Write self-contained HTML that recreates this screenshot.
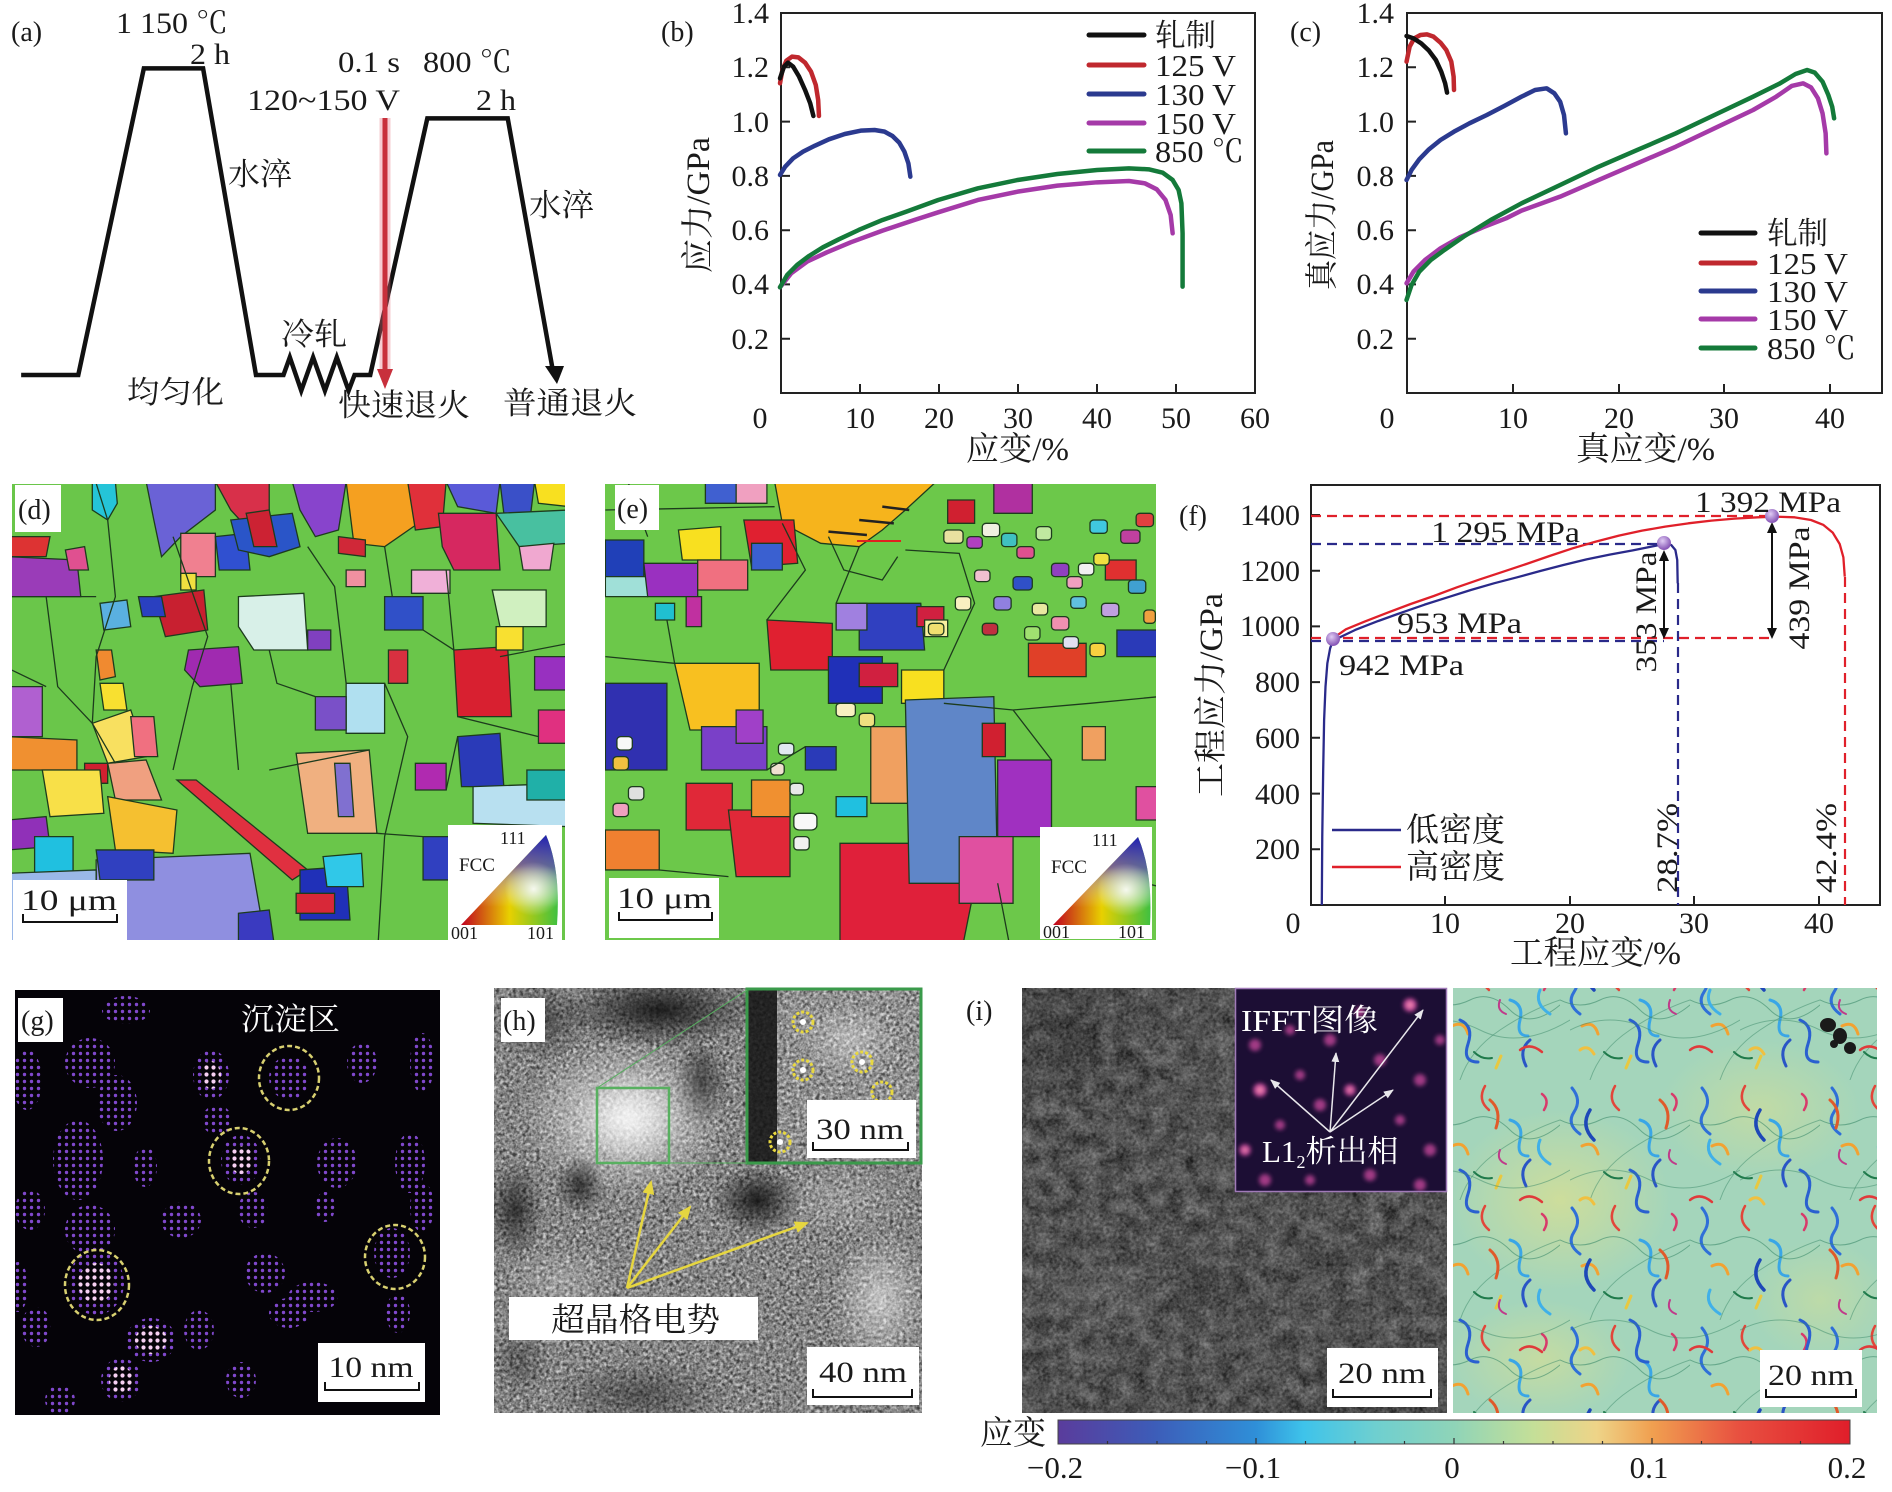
<!DOCTYPE html>
<html><head><meta charset="utf-8">
<style>
html,body{margin:0;padding:0;background:#fff;}
svg{display:block;}
text{font-family:"Liberation Serif","Noto Serif CJK SC","Noto Sans CJK SC",serif;fill:#1a1a1a;}
.ns{vector-effect:non-scaling-stroke;}
.eb polygon,.eb path,.eb rect{vector-effect:non-scaling-stroke;}
</style></head><body>
<svg width="1892" height="1492" viewBox="0 0 1892 1492" xmlns="http://www.w3.org/2000/svg">
<defs>
 <clipPath id="cd"><rect x="12" y="484" width="553" height="456"/></clipPath>
 <clipPath id="ce"><rect x="605" y="484" width="551" height="456"/></clipPath>
 <clipPath id="cg"><rect x="15" y="990" width="425" height="425"/></clipPath>
 <clipPath id="ch"><rect x="494" y="988" width="428" height="425"/></clipPath>
 <clipPath id="ci"><rect x="1022" y="988" width="425" height="425"/></clipPath>
 <clipPath id="cj"><rect x="1453" y="988" width="424" height="425"/></clipPath>
 <filter id="nz" x="0" y="0" width="100%" height="100%" color-interpolation-filters="sRGB"><feTurbulence type="fractalNoise" baseFrequency="0.3" numOctaves="2" seed="7"/><feColorMatrix type="matrix" values="0.33 0.33 0.33 0 0 0.33 0.33 0.33 0 0 0.33 0.33 0.33 0 0 0 0 0 0 1"/><feComponentTransfer><feFuncR type="linear" slope="3" intercept="-1"/><feFuncG type="linear" slope="3" intercept="-1"/><feFuncB type="linear" slope="3" intercept="-1"/></feComponentTransfer></filter>
 <filter id="nz2" x="0" y="0" width="100%" height="100%" color-interpolation-filters="sRGB"><feTurbulence type="fractalNoise" baseFrequency="0.06" numOctaves="3" seed="11"/><feColorMatrix type="matrix" values="0.33 0.33 0.33 0 0 0.33 0.33 0.33 0 0 0.33 0.33 0.33 0 0 0 0 0 0 1"/><feComponentTransfer><feFuncR type="linear" slope="2" intercept="-0.5"/><feFuncG type="linear" slope="2" intercept="-0.5"/><feFuncB type="linear" slope="2" intercept="-0.5"/></feComponentTransfer></filter>
 <filter id="bl"><feGaussianBlur stdDeviation="2"/></filter>
 <pattern id="pd" width="7" height="7" patternUnits="userSpaceOnUse"><circle cx="3.5" cy="3.5" r="1.7" fill="#8048cc"/></pattern>
 <pattern id="pb" width="7" height="7" patternUnits="userSpaceOnUse"><circle cx="3.5" cy="3.5" r="2.1" fill="#f6d0f2"/></pattern>
 <pattern id="sqA" width="130" height="120" patternUnits="userSpaceOnUse">
  <g fill="none" stroke-linecap="round">
  <path d="M12,8 q10,12 2,24 t6,22" stroke="#2f6fd8" stroke-width="3"/>
  <path d="M55,6 q-8,14 4,24" stroke="#e2463a" stroke-width="2.5"/>
  <path d="M80,40 q14,4 10,20 t8,16" stroke="#3aa6e6" stroke-width="3"/>
  <path d="M22,66 q12,-6 16,8" stroke="#f2a232" stroke-width="3"/>
  <path d="M100,80 q-12,10 -4,26" stroke="#2a55c6" stroke-width="3"/>
  <path d="M44,92 q8,8 18,6" stroke="#1f7a4a" stroke-width="2"/>
  <path d="M112,14 q8,6 2,16" stroke="#d83a6a" stroke-width="2.5"/>
  <path d="M66,108 l5,-12" stroke="#e8c840" stroke-width="3"/>
  <path d="M0,40 q20,10 40,0 t40,10 t50,-5" stroke="#3c8a6a" stroke-width="1" opacity="0.6"/>
  <path d="M30,120 q10,-30 40,-50 t60,-30" stroke="#3c8a6a" stroke-width="1" opacity="0.5"/>
  </g>
 </pattern>
 <pattern id="sqB" width="170" height="150" patternUnits="userSpaceOnUse" x="40" y="30">
  <g fill="none" stroke-linecap="round">
  <path d="M20,30 q-10,16 4,30" stroke="#1e48b8" stroke-width="3.5"/>
  <path d="M90,20 q12,10 6,28" stroke="#e05a2a" stroke-width="3"/>
  <path d="M140,60 q-6,14 10,24" stroke="#40b0e8" stroke-width="3"/>
  <path d="M60,90 q14,6 8,24 t10,18" stroke="#2a60d0" stroke-width="3"/>
  <path d="M120,120 q10,-8 22,2" stroke="#e03a3a" stroke-width="2.5"/>
  <path d="M10,120 q8,-6 14,4" stroke="#f0c040" stroke-width="3"/>
  <path d="M100,70 q-4,10 6,14" stroke="#c03a8a" stroke-width="2"/>
  <path d="M0,100 q40,-20 80,0 t90,-10" stroke="#3c8a6a" stroke-width="1" opacity="0.5"/>
  </g>
 </pattern>
 <linearGradient id="cbar" x1="0" x2="1" y1="0" y2="0">
  <stop offset="0" stop-color="#5a3c9c"/><stop offset="0.12" stop-color="#3d5cb8"/><stop offset="0.25" stop-color="#2f8fd8"/><stop offset="0.31" stop-color="#3ec3ea"/><stop offset="0.40" stop-color="#6ecfd0"/><stop offset="0.50" stop-color="#8fd4b8"/><stop offset="0.60" stop-color="#c4df98"/><stop offset="0.68" stop-color="#eed488"/><stop offset="0.75" stop-color="#f0a050"/><stop offset="0.86" stop-color="#e85040"/><stop offset="1" stop-color="#e01e2a"/>
 </linearGradient>
 <linearGradient id="ipfh" x1="0" x2="1" y1="0" y2="0"><stop offset="0" stop-color="#c00020"/><stop offset="0.5" stop-color="#e8d000"/><stop offset="1" stop-color="#40c040"/></linearGradient>
 <linearGradient id="ipfv" x1="0" x2="0" y1="0" y2="1"><stop offset="0" stop-color="#2020b0" stop-opacity="1"/><stop offset="0.35" stop-color="#6040c0" stop-opacity="0.7"/><stop offset="0.8" stop-color="#ffffff" stop-opacity="0"/></linearGradient>
 <radialGradient id="ipfw" cx="0.75" cy="0.6" r="0.3"><stop offset="0" stop-color="#fff" stop-opacity="0.9"/><stop offset="1" stop-color="#fff" stop-opacity="0"/></radialGradient>
 <radialGradient id="dot" cx="0.4" cy="0.35" r="0.6"><stop offset="0" stop-color="#e0ccf4"/><stop offset="1" stop-color="#8a5ab8"/></radialGradient>
 <radialGradient id="wb"><stop offset="0" stop-color="#fff" stop-opacity="0.95"/><stop offset="1" stop-color="#fff" stop-opacity="0"/></radialGradient>
 <radialGradient id="db"><stop offset="0" stop-color="#111" stop-opacity="0.9"/><stop offset="1" stop-color="#111" stop-opacity="0"/></radialGradient>
 <radialGradient id="yb"><stop offset="0" stop-color="#d2de98" stop-opacity="0.9"/><stop offset="1" stop-color="#d2de98" stop-opacity="0"/></radialGradient>
 <marker id="ay" markerUnits="userSpaceOnUse" markerWidth="14" markerHeight="12" refX="12" refY="6" orient="auto"><path d="M0,0 L14,6 L0,12 z" fill="#e6d640"/></marker>
 <marker id="aw" markerUnits="userSpaceOnUse" markerWidth="10" markerHeight="8" refX="9" refY="4" orient="auto"><path d="M0,0 L10,4 L0,8 z" fill="#ffffff"/></marker>
</defs>

<!-- ============ (a) ============ -->
<g transform="scale(0.4231,0.3333)">
 <path class="ns" d="M50,1125 L185,1125 L340,205 L480,205 L605,1125 L670,1125 L685,1072 L712,1172 L740,1072 L768,1172 L796,1072 L824,1172 L838,1125 L875,1125 L1010,355 L1200,355 L1305,1100" fill="none" stroke="#111" stroke-width="4.5" stroke-linejoin="miter"/>
</g>
<polygon points="545,366 564,366 557,384" fill="#111"/>
<line x1="385" y1="118" x2="385" y2="372" stroke="#e87080" stroke-width="11" opacity="0.35"/>
<line x1="385" y1="118" x2="385" y2="372" stroke="#c8303c" stroke-width="5"/>
<polygon points="377,369 393,369 385,389" fill="#c8303c"/>
<text x="11" y="41" font-size="28">(a)</text>
<text x="116" y="33" font-size="30" textLength="112" lengthAdjust="spacingAndGlyphs">1 150 ℃</text>
<text x="190" y="64" font-size="30" textLength="40" lengthAdjust="spacingAndGlyphs">2 h</text>
<text x="338" y="72" font-size="30" textLength="62" lengthAdjust="spacingAndGlyphs">0.1 s</text>
<text x="423" y="72" font-size="30" textLength="89" lengthAdjust="spacingAndGlyphs">800 ℃</text>
<text x="247" y="110" font-size="30" textLength="153" lengthAdjust="spacingAndGlyphs">120~150 V</text>
<text x="476" y="110" font-size="30" textLength="40" lengthAdjust="spacingAndGlyphs">2 h</text>
<text x="228" y="185" font-size="31" textLength="64" lengthAdjust="spacingAndGlyphs">水淬</text>
<text x="529" y="216" font-size="31" textLength="65" lengthAdjust="spacingAndGlyphs">水淬</text>
<text x="281" y="345" font-size="31" textLength="66" lengthAdjust="spacingAndGlyphs">冷轧</text>
<text x="127" y="403" font-size="31" textLength="97" lengthAdjust="spacingAndGlyphs">均匀化</text>
<text x="338" y="416" font-size="31" textLength="132" lengthAdjust="spacingAndGlyphs">快速退火</text>
<text x="503" y="414" font-size="31" textLength="134" lengthAdjust="spacingAndGlyphs">普通退火</text>

<!-- ============ (b) ============ -->
<text x="661" y="41" font-size="28">(b)</text>
<rect x="781" y="13" width="474" height="380" fill="none" stroke="#222" stroke-width="2"/>
<path d="M781,338.7h9M781,284.4h9M781,230.2h9M781,175.9h9M781,121.6h9M781,67.3h9M860,393v-9M939,393v-9M1018,393v-9M1097,393v-9M1176,393v-9" stroke="#222" stroke-width="2"/>
<g font-size="30" text-anchor="end">
 <text x="769" y="23">1.4</text><text x="769" y="77">1.2</text><text x="769" y="132">1.0</text><text x="769" y="186">0.8</text><text x="769" y="240">0.6</text><text x="769" y="294">0.4</text><text x="769" y="349">0.2</text>
</g>
<g font-size="30" text-anchor="middle">
 <text x="760" y="428">0</text><text x="860" y="428">10</text><text x="939" y="428">20</text><text x="1018" y="428">30</text><text x="1097" y="428">40</text><text x="1176" y="428">50</text><text x="1255" y="428">60</text>
</g>
<text x="966" y="460" font-size="33" textLength="103" lengthAdjust="spacingAndGlyphs">应变/%</text>
<text transform="translate(709,205) rotate(-90)" text-anchor="middle" font-size="33" textLength="136" lengthAdjust="spacingAndGlyphs">应力/GPa</text>
<g transform="translate(660,0) scale(0.3974,0.3333)" fill="none" stroke-width="4.5" stroke-linecap="round" stroke-linejoin="round">
 <path class="ns" stroke="#c0282e" d="M302,250 L308,210 L318,182 L332,170 L348,172 L365,188 L380,215 L392,255 L398,300 L400,348"/>
 <path class="ns" stroke="#111" d="M302,235 L312,200 L322,188 L335,200 L350,230 L365,270 L378,310 L386,348"/>
 <path class="ns" stroke="#2b3a8f" d="M302,525 L315,500 L335,475 L360,455 L390,437 L425,418 L465,402 L505,392 L540,390 L565,395 L585,408 L602,428 L615,455 L625,490 L630,530"/>
 <path class="ns" stroke="#a53aa8" d="M302,862 L330,820 L370,785 L420,757 L480,727 L560,692 L640,660 L700,637 L800,600 L900,575 L1000,557 L1100,547 L1180,543 L1220,550 L1250,568 L1272,600 L1285,645 L1290,700"/>
 <path class="ns" stroke="#147a3a" d="M302,862 L320,825 L345,795 L375,768 L410,742 L450,718 L500,690 L560,660 L620,635 L700,600 L800,565 L900,540 L1000,522 L1100,510 L1180,505 L1230,508 L1265,518 L1290,540 L1305,570 L1312,610 L1315,700 L1315,860"/>
</g>
<g stroke-width="5" stroke-linecap="round">
 <line x1="1089" y1="35" x2="1144" y2="35" stroke="#111"/>
 <line x1="1089" y1="65" x2="1144" y2="65" stroke="#c0282e"/>
 <line x1="1089" y1="94" x2="1144" y2="94" stroke="#2b3a8f"/>
 <line x1="1089" y1="123" x2="1144" y2="123" stroke="#a53aa8"/>
 <line x1="1089" y1="151" x2="1144" y2="151" stroke="#147a3a"/>
</g>
<g font-size="31">
 <text x="1155" y="46" textLength="61" lengthAdjust="spacingAndGlyphs">轧制</text>
 <text x="1155" y="76" textLength="81" lengthAdjust="spacingAndGlyphs">125 V</text>
 <text x="1155" y="105" textLength="81" lengthAdjust="spacingAndGlyphs">130 V</text>
 <text x="1155" y="134" textLength="81" lengthAdjust="spacingAndGlyphs">150 V</text>
 <text x="1155" y="162" textLength="89" lengthAdjust="spacingAndGlyphs">850 ℃</text>
</g>

<!-- ============ (c) ============ -->
<text x="1290" y="41" font-size="28">(c)</text>
<rect x="1407" y="13" width="475" height="380" fill="none" stroke="#222" stroke-width="2"/>
<path d="M1407,338.7h9M1407,284.4h9M1407,230.2h9M1407,175.9h9M1407,121.6h9M1407,67.3h9M1513,393v-9M1619,393v-9M1724,393v-9M1830,393v-9" stroke="#222" stroke-width="2"/>
<g font-size="30" text-anchor="end">
 <text x="1394" y="23">1.4</text><text x="1394" y="77">1.2</text><text x="1394" y="132">1.0</text><text x="1394" y="186">0.8</text><text x="1394" y="240">0.6</text><text x="1394" y="294">0.4</text><text x="1394" y="349">0.2</text>
</g>
<g font-size="30" text-anchor="middle">
 <text x="1387" y="428">0</text><text x="1513" y="428">10</text><text x="1619" y="428">20</text><text x="1724" y="428">30</text><text x="1830" y="428">40</text>
</g>
<text x="1576" y="460" font-size="33" textLength="139" lengthAdjust="spacingAndGlyphs">真应变/%</text>
<text transform="translate(1333,215) rotate(-90)" text-anchor="middle" font-size="33" textLength="150" lengthAdjust="spacingAndGlyphs">真应力/GPa</text>
<g transform="translate(1290,0) scale(0.3859,0.3333)" fill="none" stroke-width="4.5" stroke-linecap="round" stroke-linejoin="round">
 <path class="ns" stroke="#c0282e" d="M302,185 L310,140 L322,115 L338,105 L355,103 L372,110 L390,128 L405,150 L418,185 L424,230 L425,270"/>
 <path class="ns" stroke="#111" d="M302,108 L320,115 L340,130 L360,152 L378,180 L392,215 L402,250 L407,278"/>
 <path class="ns" stroke="#2b3a8f" d="M302,540 L315,510 L335,478 L360,448 L390,420 L425,395 L465,370 L510,345 L555,318 L600,290 L635,270 L665,265 L685,280 L700,305 L710,345 L715,400"/>
 <path class="ns" stroke="#a53aa8" d="M302,850 L320,815 L350,780 L390,745 L440,712 L500,682 L560,655 L600,632 L700,590 L800,540 L900,490 L1000,440 L1100,385 L1200,330 L1260,290 L1300,258 L1330,250 L1350,262 L1368,295 L1380,340 L1388,400 L1390,460"/>
 <path class="ns" stroke="#147a3a" d="M302,900 L315,855 L335,815 L365,780 L400,750 L450,710 L520,660 L600,610 L700,555 L800,500 L900,450 L1000,400 L1100,345 L1200,290 L1270,250 L1310,222 L1340,210 L1360,218 L1380,245 L1395,285 L1405,320 L1410,355"/>
</g>
<g stroke-width="5" stroke-linecap="round">
 <line x1="1701" y1="233" x2="1755" y2="233" stroke="#111"/>
 <line x1="1701" y1="263" x2="1755" y2="263" stroke="#c0282e"/>
 <line x1="1701" y1="291" x2="1755" y2="291" stroke="#2b3a8f"/>
 <line x1="1701" y1="319" x2="1755" y2="319" stroke="#a53aa8"/>
 <line x1="1701" y1="348" x2="1755" y2="348" stroke="#147a3a"/>
</g>
<g font-size="31">
 <text x="1767" y="244" textLength="61" lengthAdjust="spacingAndGlyphs">轧制</text>
 <text x="1767" y="274" textLength="81" lengthAdjust="spacingAndGlyphs">125 V</text>
 <text x="1767" y="302" textLength="81" lengthAdjust="spacingAndGlyphs">130 V</text>
 <text x="1767" y="330" textLength="81" lengthAdjust="spacingAndGlyphs">150 V</text>
 <text x="1767" y="359" textLength="89" lengthAdjust="spacingAndGlyphs">850 ℃</text>
</g>

<!-- ============ (d) EBSD ============ -->
<g clip-path="url(#cd)">
<g class="eb" transform="translate(0,470) scale(0.3846,0.3333)" stroke="#1d3b1d" stroke-width="1.3">
 <rect x="0" y="0" width="1560" height="1480" fill="#6ac64a"/>
 <polygon points="240,35 300,35 305,100 280,150 240,120" fill="#25c4d8"/>
 <polygon points="380,35 560,35 560,120 470,200 420,260 400,150" fill="#6a62d6"/>
 <polygon points="470,190 560,190 560,320 470,320" fill="#f08090"/>
 <polygon points="560,35 700,35 700,130 640,170 600,120" fill="#d8304a"/>
 <polygon points="560,200 640,190 650,300 570,300" fill="#3050d0"/>
 <polygon points="600,150 760,130 780,230 700,260 620,240" fill="#2a55c8"/>
 <polygon points="640,130 700,120 720,230 660,230" fill="#cc2233"/>
 <polygon points="760,35 900,35 880,180 820,200 780,120" fill="#8844cc"/>
 <polygon points="900,35 1130,35 1100,150 1000,230 920,220" fill="#f5a020"/>
 <polygon points="1060,35 1160,35 1150,170 1080,180" fill="#e0303a"/>
 <polygon points="1160,35 1300,35 1290,130 1190,110" fill="#5a5ad8"/>
 <polygon points="1140,130 1290,130 1300,300 1180,300 1150,230" fill="#d62860"/>
 <polygon points="1300,35 1390,35 1380,130 1310,130" fill="#3a50c8"/>
 <polygon points="1390,35 1480,35 1480,110 1400,100" fill="#f8e020"/>
 <polygon points="1290,130 1480,120 1480,220 1350,230" fill="#48c0a0"/>
 <polygon points="1350,230 1440,220 1430,300 1360,300" fill="#f0a8d0"/>
 <polygon points="20,200 130,200 120,260 20,260" fill="#dd3333"/>
 <polygon points="20,260 200,270 210,380 20,380" fill="#9a3cb8"/>
 <polygon points="170,240 220,230 230,300 180,300" fill="#e05090"/>
 <polygon points="260,400 330,390 340,470 270,480" fill="#5ab0e0"/>
 <polygon points="400,380 530,360 540,480 430,500" fill="#c82030"/>
 <polygon points="360,380 420,380 430,440 370,440" fill="#2a40c0"/>
 <polygon points="470,310 510,310 510,360 470,360" fill="#f0e040"/>
 <polygon points="620,380 790,370 800,540 660,540 620,470" fill="#d8f0e8"/>
 <polygon points="490,540 620,530 630,640 520,650 480,600" fill="#a02ab0"/>
 <polygon points="250,540 290,540 300,620 260,630" fill="#f08a30"/>
 <polygon points="20,650 110,650 110,800 20,800" fill="#b060d0"/>
 <polygon points="20,800 200,810 200,900 20,900" fill="#f09030"/>
 <polygon points="260,640 320,640 330,720 270,720" fill="#f8e030"/>
 <polygon points="240,760 340,720 380,860 280,880" fill="#f8e060"/>
 <polygon points="340,740 400,740 410,860 350,860" fill="#f07080"/>
 <polygon points="220,880 280,880 280,940 220,940" fill="#d02030"/>
 <polygon points="110,900 260,900 270,1030 130,1040" fill="#f8e048"/>
 <polygon points="280,880 380,870 420,990 300,990" fill="#f0a080"/>
 <polygon points="20,1050 120,1040 130,1130 20,1140" fill="#9030b8"/>
 <polygon points="90,1100 190,1100 190,1210 90,1210" fill="#20c0e0"/>
 <polygon points="280,980 460,1020 450,1150 300,1140" fill="#f5c030"/>
 <polygon points="250,1170 650,1150 700,1480 250,1480" fill="#8f8fe0"/>
 <polygon points="250,1140 400,1140 400,1230 260,1230" fill="#3040c0"/>
 <polygon points="20,1210 250,1200 250,1480 20,1480" fill="#9ab8e8"/>
 <polygon points="460,930 510,930 800,1200 760,1230" fill="#e03040"/>
 <polygon points="770,850 960,840 980,1090 800,1090" fill="#f0b080"/>
 <polygon points="870,880 910,880 920,1040 880,1040" fill="#8070d0"/>
 <polygon points="780,1200 900,1190 910,1350 780,1350" fill="#2030b8"/>
 <polygon points="840,1160 940,1150 945,1250 850,1250" fill="#30c8e8"/>
 <polygon points="770,1270 870,1270 870,1330 770,1330" fill="#d82838"/>
 <polygon points="620,1330 700,1320 720,1480 620,1480" fill="#3a3ac0"/>
 <polygon points="1080,880 1160,880 1160,960 1080,960" fill="#b02ab0"/>
 <polygon points="1190,800 1300,790 1310,950 1200,950" fill="#2a3ab8"/>
 <polygon points="1230,950 1480,940 1480,1070 1230,1060" fill="#b8e0f0"/>
 <polygon points="1370,900 1480,900 1480,990 1370,990" fill="#20b0a8"/>
 <polygon points="1100,1100 1170,1100 1170,1230 1100,1230" fill="#3040c0"/>
 <polygon points="1180,540 1320,530 1330,740 1190,740" fill="#d82030"/>
 <polygon points="1280,360 1420,360 1420,470 1300,470" fill="#d0f0c0"/>
 <polygon points="1000,380 1100,380 1100,480 1000,480" fill="#3050c8"/>
 <polygon points="1290,470 1360,470 1360,540 1290,540" fill="#f8e030"/>
 <polygon points="1070,300 1170,300 1170,370 1070,370" fill="#f0b0d8"/>
 <polygon points="900,640 1000,640 1000,790 900,790" fill="#b0e0f0"/>
 <polygon points="820,680 900,680 900,780 820,780" fill="#7a50c8"/>
 <polygon points="1390,560 1480,560 1480,660 1390,660" fill="#9830c0"/>
 <polygon points="1400,720 1480,720 1480,820 1400,820" fill="#e03080"/>
 <polygon points="880,200 950,210 950,260 880,250" fill="#d02838"/>
 <polygon points="900,300 950,300 950,350 900,350" fill="#f090a0"/>
 <polygon points="1010,540 1060,540 1060,640 1010,640" fill="#d83040"/>
 <polygon points="800,480 860,480 860,540 800,540" fill="#8040c0"/>
 <path fill="none" d="M250,40 L280,150 L300,380 L250,560 L240,760 L300,880 M30,380 L250,380 M450,200 L540,500 L500,650 L450,900 M600,640 L620,900 M800,230 L870,350 L900,640 M1000,230 L1020,380 M1000,640 L1060,800 L1000,1100 L980,1480 M1160,300 L1180,540 M1300,560 L1480,520 M1190,740 L1400,800 M700,900 L960,840 M30,600 L120,650 M700,540 L720,640 L820,680 M1100,480 L1180,540 M120,380 L150,650 L240,760 M980,1090 L1100,1100 M1170,1230 L1250,1480 M1160,960 L1190,800"/>
</g>
</g>
<rect x="15" y="485" width="46" height="47" fill="#fff"/>
<text x="18" y="519" font-size="28">(d)</text>
<rect x="13" y="880" width="114" height="60" fill="#fff"/>
<text x="21" y="910" font-size="30" textLength="96" lengthAdjust="spacingAndGlyphs">10 μm</text>
<path d="M23,914 V922 H117 V914" fill="none" stroke="#111" stroke-width="2"/>
<rect x="448" y="825" width="114" height="115" fill="#fff"/>
<path d="M461,925 L557,925 Q561,870 546,835 Z" fill="url(#ipfh)"/>
<path d="M461,925 L557,925 Q561,870 546,835 Z" fill="url(#ipfv)"/>
<path d="M461,925 L557,925 Q561,870 546,835 Z" fill="url(#ipfw)"/>
<text x="500" y="844" font-size="18">111</text>
<text x="459" y="871" font-size="19">FCC</text>
<text x="451" y="939" font-size="18">001</text>
<text x="527" y="939" font-size="18">101</text>

<!-- ============ (e) EBSD ============ -->
<g clip-path="url(#ce)">
<g class="eb" transform="translate(590,470) scale(0.3846,0.3333)" stroke="#1d3b1d" stroke-width="1.3">
 <rect x="0" y="0" width="1560" height="1480" fill="#6cc84a"/>
 <polygon points="480,35 900,35 820,120 760,180 700,230 600,220 500,160" fill="#f6b41c"/>
 <polygon points="300,35 380,35 380,100 300,100" fill="#4060d0"/>
 <polygon points="380,35 460,35 460,100 380,100" fill="#f0a0c0"/>
 <polygon points="230,180 340,170 340,270 240,270" fill="#f8e020"/>
 <polygon points="400,150 530,150 540,280 420,290" fill="#e02030"/>
 <polygon points="40,210 140,210 140,320 40,320" fill="#2040b8"/>
 <polygon points="40,320 150,320 150,380 40,380" fill="#a0e0d8"/>
 <polygon points="140,280 280,280 280,380 150,380" fill="#9a30c0"/>
 <polygon points="280,270 410,270 410,360 280,360" fill="#f07080"/>
 <polygon points="420,220 500,220 500,300 420,300" fill="#3a60d0"/>
 <polygon points="170,400 220,400 220,450 170,450" fill="#20c0d0"/>
 <polygon points="250,380 290,380 290,470 250,470" fill="#c030a0"/>
 <polygon points="460,450 630,460 630,600 470,600" fill="#e02030"/>
 <polygon points="220,580 440,580 440,780 260,780" fill="#f8c020"/>
 <polygon points="810,600 920,600 920,700 810,700" fill="#f8e020"/>
 <polygon points="700,400 860,400 870,540 700,540" fill="#3040c0"/>
 <polygon points="640,400 720,400 720,480 640,480" fill="#a080e0"/>
 <polygon points="620,560 760,560 760,700 620,700" fill="#2030b8"/>
 <polygon points="700,580 800,580 800,650 700,650" fill="#d02040"/>
 <polygon points="850,410 920,410 920,470 850,470" fill="#d02040"/>
 <polygon points="870,450 930,450 930,500 870,500" fill="#f8f0a0"/>
 <polygon points="40,640 200,640 200,900 40,900" fill="#3030b0"/>
 <polygon points="290,770 460,770 460,900 290,900" fill="#7a40c8"/>
 <polygon points="380,720 450,720 450,820 380,820" fill="#a040c8"/>
 <polygon points="250,940 370,940 370,1080 250,1080" fill="#e02838"/>
 <polygon points="360,1020 520,1020 520,1220 380,1220" fill="#e02838"/>
 <polygon points="420,930 520,930 520,1040 420,1040" fill="#f09030"/>
 <polygon points="730,770 840,770 840,1000 730,1000" fill="#f0a060"/>
 <polygon points="560,830 640,830 640,900 560,900" fill="#2a3ab8"/>
 <polygon points="640,980 720,980 720,1040 640,1040" fill="#20c0e0"/>
 <polygon points="650,1120 830,1120 1000,1250 960,1480 650,1480" fill="#e0203a"/>
 <polygon points="820,690 1050,680 1060,1240 830,1240" fill="#5f86c8"/>
 <polygon points="1020,760 1080,760 1080,860 1020,860" fill="#d02030"/>
 <polygon points="1060,870 1200,870 1200,1100 1060,1100" fill="#a030c0"/>
 <polygon points="960,1100 1100,1100 1100,1300 960,1300" fill="#e050a0"/>
 <polygon points="40,1080 180,1080 180,1200 40,1200" fill="#f08030"/>
 <polygon points="1140,520 1290,520 1290,620 1140,620" fill="#e04028"/>
 <polygon points="1370,480 1480,480 1480,560 1370,560" fill="#2a3ab8"/>
 <polygon points="1340,270 1420,270 1420,330 1340,330" fill="#e03030"/>
 <polygon points="930,90 1000,90 1000,160 930,160" fill="#d02030"/>
 <polygon points="1050,35 1150,35 1150,130 1050,130" fill="#b030a0"/>
 <polygon points="1420,950 1480,950 1480,1050 1420,1050" fill="#e050a0"/>
 <polygon points="1280,770 1340,770 1340,870 1280,870" fill="#f0a060"/>
 <g>
 <rect x="920" y="180" width="50" height="40" rx="10" fill="#e8e0a0"/>
 <rect x="980" y="200" width="40" height="35" rx="10" fill="#b040c0"/>
 <rect x="1020" y="160" width="45" height="40" rx="10" fill="#f0f0e0"/>
 <rect x="1070" y="190" width="40" height="40" rx="10" fill="#40c0c0"/>
 <rect x="1110" y="230" width="45" height="35" rx="10" fill="#e05090"/>
 <rect x="1160" y="170" width="40" height="40" rx="10" fill="#c0e8a0"/>
 <rect x="1200" y="280" width="45" height="40" rx="10" fill="#9040c0"/>
 <rect x="1240" y="320" width="40" height="35" rx="10" fill="#f0a0c0"/>
 <rect x="1270" y="280" width="40" height="35" rx="10" fill="#f0f0f0"/>
 <rect x="1310" y="250" width="40" height="35" rx="10" fill="#f0e040"/>
 <rect x="1100" y="320" width="50" height="40" rx="10" fill="#3050c8"/>
 <rect x="1300" y="150" width="45" height="40" rx="10" fill="#40c8e0"/>
 <rect x="1380" y="180" width="50" height="40" rx="10" fill="#c040a0"/>
 <rect x="1420" y="130" width="45" height="40" rx="10" fill="#e04040"/>
 <rect x="1000" y="300" width="40" height="35" rx="10" fill="#f0c0d0"/>
 <rect x="1050" y="380" width="45" height="40" rx="10" fill="#9080e0"/>
 <rect x="1150" y="400" width="40" height="35" rx="10" fill="#e8e8a0"/>
 <rect x="1200" y="440" width="45" height="40" rx="10" fill="#f090b0"/>
 <rect x="1250" y="380" width="40" height="35" rx="10" fill="#60c0e0"/>
 <rect x="1330" y="400" width="45" height="40" rx="10" fill="#c0a0e0"/>
 <rect x="1400" y="330" width="45" height="40" rx="10" fill="#40a0d0"/>
 <rect x="950" y="380" width="40" height="40" rx="10" fill="#f8f0c0"/>
 <rect x="880" y="460" width="40" height="35" rx="10" fill="#f0e070"/>
 <rect x="1230" y="500" width="40" height="35" rx="10" fill="#e0e0f0"/>
 <rect x="1300" y="520" width="40" height="40" rx="10" fill="#f8d040"/>
 <rect x="1440" y="420" width="30" height="40" rx="10" fill="#f0a040"/>
 <rect x="1130" y="470" width="40" height="40" rx="10" fill="#a0e070"/>
 <rect x="1020" y="460" width="40" height="35" rx="10" fill="#c03040"/>
 <rect x="70" y="800" width="40" height="40" rx="10" fill="#f8f8f8"/>
 <rect x="60" y="860" width="40" height="40" rx="10" fill="#f0c040"/>
 <rect x="100" y="950" width="40" height="40" rx="10" fill="#e0e0e0"/>
 <rect x="60" y="1000" width="40" height="40" rx="10" fill="#f0a0c0"/>
 <rect x="490" y="820" width="40" height="35" rx="10" fill="#e0e8f0"/>
 <rect x="470" y="880" width="35" height="35" rx="10" fill="#f0e0d0"/>
 <rect x="520" y="940" width="35" height="35" rx="10" fill="#e8e8e8"/>
 <rect x="530" y="1030" width="60" height="50" rx="14" fill="#f8f8f8"/>
 <rect x="530" y="1100" width="40" height="40" rx="10" fill="#f0f0f0"/>
 <rect x="640" y="700" width="50" height="40" rx="10" fill="#f8f0c0"/>
 <rect x="700" y="730" width="40" height="40" rx="10" fill="#f0e080"/>
 </g>
 <path fill="none" d="M40,120 L480,110 M100,40 L150,200 M500,160 L560,300 L460,450 M700,230 L640,400 M820,240 L960,250 L1000,400 L920,600 M200,450 L220,580 M40,560 L220,580 M920,700 L1100,720 L1300,700 L1480,680 M1100,720 L1200,870 M1200,1100 L1300,1200 L1480,1250 M460,900 L560,830 M1060,1240 L1100,1480 M180,1200 L360,1220 M620,200 L660,300 L760,330 L800,260"/>
 <path stroke="#222" stroke-width="2.5" fill="none" d="M620,185 L720,195 M700,150 L790,160 M760,110 L830,120"/>
</g>
</g>
<line x1="857" y1="541" x2="901" y2="541" stroke="#e02020" stroke-width="2"/>
<rect x="615" y="485" width="44" height="45" fill="#fff"/>
<text x="617" y="518" font-size="28">(e)</text>
<rect x="609" y="878" width="110" height="60" fill="#fff"/>
<text x="617" y="908" font-size="30" textLength="95" lengthAdjust="spacingAndGlyphs">10 μm</text>
<path d="M619,912 V920 H712 V912" fill="none" stroke="#111" stroke-width="2"/>
<rect x="1040" y="827" width="112" height="112" fill="#fff"/>
<path d="M1053,925 L1150,925 Q1153,872 1138,837 Z" fill="url(#ipfh)"/>
<path d="M1053,925 L1150,925 Q1153,872 1138,837 Z" fill="url(#ipfv)"/>
<path d="M1053,925 L1150,925 Q1153,872 1138,837 Z" fill="url(#ipfw)"/>
<text x="1092" y="846" font-size="18">111</text>
<text x="1051" y="873" font-size="19">FCC</text>
<text x="1043" y="938" font-size="18">001</text>
<text x="1118" y="938" font-size="18">101</text>

<!-- ============ (f) ============ -->
<text x="1179" y="525" font-size="28">(f)</text>
<rect x="1311" y="485" width="569" height="420" fill="none" stroke="#222" stroke-width="2"/>
<path d="M1311,849.3h9M1311,793.6h9M1311,737.8h9M1311,682.1h9M1311,626.4h9M1311,570.7h9M1311,515h9M1445,905v-9M1570,905v-9M1694,905v-9M1819,905v-9" stroke="#222" stroke-width="2"/>
<g font-size="30" text-anchor="end">
 <text x="1300" y="525">1400</text><text x="1300" y="581">1200</text><text x="1300" y="636">1000</text><text x="1300" y="692">800</text><text x="1300" y="748">600</text><text x="1300" y="804">400</text><text x="1300" y="859">200</text>
</g>
<g font-size="30" text-anchor="middle">
 <text x="1293" y="933">0</text><text x="1445" y="933">10</text><text x="1570" y="933">20</text><text x="1694" y="933">30</text><text x="1819" y="933">40</text>
</g>
<text x="1510" y="964" font-size="33" textLength="171" lengthAdjust="spacingAndGlyphs">工程应变/%</text>
<text transform="translate(1222,695) rotate(-90)" text-anchor="middle" font-size="33" textLength="204" lengthAdjust="spacingAndGlyphs">工程应力/GPa</text>
<g stroke-width="2.2" stroke-dasharray="10 6" fill="none">
 <line x1="1311" y1="516" x2="1772" y2="516" stroke="#e0202a"/>
 <line x1="1311" y1="544" x2="1664" y2="544" stroke="#2a2a8a"/>
 <line x1="1311" y1="638" x2="1772" y2="638" stroke="#e0202a"/>
 <line x1="1311" y1="641" x2="1664" y2="641" stroke="#2a2a8a"/>
 <line x1="1678" y1="583" x2="1678" y2="905" stroke="#2a2a8a"/>
 <line x1="1845" y1="577" x2="1845" y2="905" stroke="#e0202a"/>
</g>
<g transform="translate(1170,470) scale(0.4628,0.3333)" fill="none" stroke-width="2.3" stroke-linejoin="round">
 <path class="ns" stroke="#2a2a8a" d="M328,1305 L329,1100 L331,900 L333,750 L336,650 L340,580 L346,535 L352,512 L400,480 L450,453 L500,428 L550,404 L600,382 L650,360 L700,340 L750,322 L800,303 L850,285 L900,268 L950,254 L1000,241 L1040,230 L1068,222 L1083,225 L1092,240 L1096,270 L1097,340"/>
 <path class="ns" stroke="#e0202a" d="M352,505 L380,478 L420,455 L470,428 L520,402 L570,378 L620,352 L670,328 L720,305 L770,282 L820,258 L870,235 L920,215 L970,197 L1020,182 L1070,170 L1120,160 L1170,152 L1220,146 L1270,142 L1310,140 L1350,142 L1385,150 L1412,165 L1432,188 L1447,222 L1455,262 L1458,320"/>
</g>
<g stroke="#111" stroke-width="2">
 <line x1="1664" y1="556" x2="1664" y2="633"/>
 <line x1="1772" y1="528" x2="1772" y2="633"/>
</g>
<g fill="#111">
 <polygon points="1659,561 1669,561 1664,550"/><polygon points="1659,628 1669,628 1664,639"/>
 <polygon points="1767,533 1777,533 1772,522"/><polygon points="1767,628 1777,628 1772,639"/>
</g>
<circle cx="1333" cy="639" r="7" fill="url(#dot)"/>
<circle cx="1664" cy="543" r="7" fill="url(#dot)"/>
<circle cx="1772" cy="516" r="7" fill="url(#dot)"/>
<g font-size="30">
 <text x="1695" y="512" textLength="146" lengthAdjust="spacingAndGlyphs">1 392 MPa</text>
 <text x="1431" y="542" textLength="149" lengthAdjust="spacingAndGlyphs">1 295 MPa</text>
 <text x="1397" y="633" textLength="125" lengthAdjust="spacingAndGlyphs">953 MPa</text>
 <text x="1339" y="675" textLength="125" lengthAdjust="spacingAndGlyphs">942 MPa</text>
 <text transform="translate(1656,612) rotate(-90)" text-anchor="middle" textLength="121" lengthAdjust="spacingAndGlyphs">353 MPa</text>
 <text transform="translate(1809,588) rotate(-90)" text-anchor="middle" textLength="123" lengthAdjust="spacingAndGlyphs">439 MPa</text>
 <text transform="translate(1677,848) rotate(-90)" text-anchor="middle" textLength="90" lengthAdjust="spacingAndGlyphs">28.7%</text>
 <text transform="translate(1836,848) rotate(-90)" text-anchor="middle" textLength="90" lengthAdjust="spacingAndGlyphs">42.4%</text>
</g>
<line x1="1332" y1="830" x2="1401" y2="830" stroke="#2a2a8a" stroke-width="2.5"/>
<line x1="1332" y1="867" x2="1401" y2="867" stroke="#e0202a" stroke-width="2.5"/>
<text x="1406" y="841" font-size="33" textLength="99" lengthAdjust="spacingAndGlyphs">低密度</text>
<text x="1406" y="878" font-size="33" textLength="99" lengthAdjust="spacingAndGlyphs">高密度</text>

<!-- ============ (g) ============ -->
<rect x="15" y="990" width="425" height="425" fill="#050308"/>
<g clip-path="url(#cg)">
 <g fill="url(#pd)">
  <ellipse cx="126" cy="1010" rx="24" ry="14"/><ellipse cx="90" cy="1063" rx="25" ry="25"/><ellipse cx="27" cy="1080" rx="15" ry="30"/>
  <ellipse cx="117" cy="1103" rx="20" ry="28"/><ellipse cx="211" cy="1075" rx="18" ry="25"/><ellipse cx="289" cy="1078" rx="20" ry="22"/>
  <ellipse cx="362" cy="1063" rx="15" ry="20"/><ellipse cx="422" cy="1063" rx="12" ry="30"/><ellipse cx="217" cy="1120" rx="15" ry="15"/>
  <ellipse cx="78" cy="1160" rx="25" ry="40"/><ellipse cx="145" cy="1167" rx="12" ry="20"/><ellipse cx="241" cy="1160" rx="20" ry="25"/>
  <ellipse cx="337" cy="1163" rx="20" ry="25"/><ellipse cx="410" cy="1163" rx="15" ry="30"/><ellipse cx="30" cy="1210" rx="15" ry="20"/>
  <ellipse cx="90" cy="1230" rx="25" ry="25"/><ellipse cx="181" cy="1220" rx="20" ry="18"/><ellipse cx="253" cy="1210" rx="15" ry="18"/>
  <ellipse cx="325" cy="1207" rx="10" ry="15"/><ellipse cx="422" cy="1207" rx="12" ry="25"/><ellipse cx="96" cy="1283" rx="28" ry="32"/>
  <ellipse cx="18" cy="1287" rx="10" ry="25"/><ellipse cx="265" cy="1273" rx="20" ry="20"/><ellipse cx="313" cy="1297" rx="25" ry="15"/>
  <ellipse cx="392" cy="1253" rx="18" ry="25"/><ellipse cx="151" cy="1340" rx="25" ry="22"/><ellipse cx="199" cy="1330" rx="15" ry="20"/>
  <ellipse cx="121" cy="1380" rx="20" ry="22"/><ellipse cx="241" cy="1380" rx="15" ry="18"/><ellipse cx="289" cy="1313" rx="20" ry="15"/>
  <ellipse cx="36" cy="1327" rx="15" ry="20"/><ellipse cx="398" cy="1313" rx="12" ry="20"/><ellipse cx="60" cy="1400" rx="15" ry="15"/>
 </g>
 <g fill="url(#pb)">
  <ellipse cx="211" cy="1075" rx="10" ry="14"/><ellipse cx="241" cy="1160" rx="12" ry="14"/><ellipse cx="96" cy="1283" rx="18" ry="20"/>
  <ellipse cx="151" cy="1340" rx="16" ry="14"/><ellipse cx="121" cy="1380" rx="12" ry="14"/>
 </g>
 <g fill="none" stroke="#d8d070" stroke-width="2.5" stroke-dasharray="5 3">
  <ellipse cx="289" cy="1078" rx="30" ry="32"/><ellipse cx="239" cy="1161" rx="30" ry="33"/>
  <ellipse cx="97" cy="1285" rx="32" ry="35"/><ellipse cx="395" cy="1257" rx="30" ry="32"/>
 </g>
</g>
<rect x="18" y="998" width="45" height="44" fill="#fff"/>
<text x="21" y="1030" font-size="28">(g)</text>
<text x="241" y="1030" font-size="31" textLength="99" lengthAdjust="spacingAndGlyphs" style="fill:#fff">沉淀区</text>
<rect x="318" y="1343" width="107" height="59" fill="#fff"/>
<text x="371" y="1377" font-size="30" text-anchor="middle" textLength="85" lengthAdjust="spacingAndGlyphs">10 nm</text>
<path d="M325,1382 V1390 H419 V1382" fill="none" stroke="#111" stroke-width="2"/>

<!-- ============ (h) ============ -->
<g clip-path="url(#ch)">
 <rect x="494" y="988" width="428" height="425" fill="#8e8e8e"/>
 <rect x="494" y="988" width="428" height="425" filter="url(#nz)" opacity="0.55"/>
 <ellipse cx="660" cy="1010" rx="100" ry="38" fill="url(#db)"/>
 <ellipse cx="540" cy="1020" rx="50" ry="40" fill="url(#db)" opacity="0.6"/>
 <ellipse cx="700" cy="1085" rx="28" ry="45" fill="url(#db)" opacity="0.8"/>
 <ellipse cx="625" cy="1118" rx="105" ry="80" fill="url(#wb)" opacity="0.8"/>
 <ellipse cx="632" cy="1118" rx="50" ry="45" fill="url(#wb)" opacity="0.6"/>
 <ellipse cx="515" cy="1210" rx="30" ry="50" fill="url(#db)" opacity="0.8"/>
 <ellipse cx="580" cy="1185" rx="25" ry="30" fill="url(#db)" opacity="0.8"/>
 <ellipse cx="757" cy="1200" rx="45" ry="35" fill="url(#db)"/>
 <ellipse cx="640" cy="1395" rx="90" ry="35" fill="url(#db)" opacity="0.5"/>
 <ellipse cx="520" cy="1360" rx="30" ry="40" fill="url(#db)" opacity="0.4"/>
 <ellipse cx="880" cy="1300" rx="50" ry="70" fill="url(#wb)" opacity="0.55"/>
 <ellipse cx="840" cy="1200" rx="70" ry="40" fill="url(#wb)" opacity="0.2"/>
 <ellipse cx="560" cy="1280" rx="60" ry="40" fill="url(#wb)" opacity="0.25"/>
 <rect x="747" y="988" width="175" height="175" fill="#a8a8a8"/>
 <rect x="747" y="988" width="175" height="175" filter="url(#nz)" opacity="0.55"/>
 <rect x="747" y="988" width="30" height="175" fill="#111" opacity="0.85"/>
 <ellipse cx="850" cy="1040" rx="50" ry="40" fill="url(#wb)" opacity="0.4"/>
 <ellipse cx="840" cy="1140" rx="40" ry="25" fill="url(#db)" opacity="0.4"/>
</g>
<rect x="747" y="989" width="174" height="174" fill="none" stroke="#3a9a4a" stroke-width="3"/>
<rect x="597" y="1088" width="72" height="75" fill="none" stroke="#58b060" stroke-width="2.5"/>
<line x1="597" y1="1088" x2="747" y2="990" stroke="#58b060" stroke-width="1"/>
<line x1="669" y1="1163" x2="747" y2="1163" stroke="#58b060" stroke-width="1"/>
<g fill="none" stroke="#e8d840" stroke-width="3" stroke-dasharray="3 2">
 <circle cx="803" cy="1022" r="10"/><circle cx="803" cy="1070" r="10"/><circle cx="862" cy="1062" r="10"/><circle cx="882" cy="1092" r="10"/><circle cx="780" cy="1142" r="10"/>
</g>
<g fill="#fff"><circle cx="803" cy="1022" r="3"/><circle cx="803" cy="1070" r="3"/><circle cx="862" cy="1062" r="3"/><circle cx="780" cy="1142" r="3"/></g>
<rect x="807" y="1100" width="109" height="58" fill="#fff"/>
<text x="860" y="1139" font-size="30" text-anchor="middle" textLength="88" lengthAdjust="spacingAndGlyphs">30 nm</text>
<path d="M813,1142 V1150 H908 V1142" fill="none" stroke="#111" stroke-width="2"/>
<g stroke="#e6d640" stroke-width="2.5">
 <line x1="627" y1="1288" x2="651" y2="1182" marker-end="url(#ay)"/>
 <line x1="627" y1="1288" x2="690" y2="1207" marker-end="url(#ay)"/>
 <line x1="627" y1="1288" x2="807" y2="1223" marker-end="url(#ay)"/>
</g>
<rect x="509" y="1297" width="249" height="43" fill="#fff"/>
<text x="551" y="1331" font-size="33" textLength="169" lengthAdjust="spacingAndGlyphs">超晶格电势</text>
<rect x="807" y="1347" width="112" height="58" fill="#fff"/>
<text x="863" y="1382" font-size="30" text-anchor="middle" textLength="88" lengthAdjust="spacingAndGlyphs">40 nm</text>
<path d="M813,1389 V1397 H912 V1389" fill="none" stroke="#111" stroke-width="2"/>
<rect x="501" y="998" width="44" height="44" fill="#fff"/>
<text x="503" y="1030" font-size="28">(h)</text>

<!-- ============ (i) ============ -->
<text x="966" y="1020" font-size="28">(i)</text>
<g clip-path="url(#ci)">
 <rect x="1022" y="988" width="425" height="425" fill="#2c2c2c"/>
 <rect x="1022" y="988" width="425" height="425" filter="url(#nz2)" opacity="0.35"/>
 <ellipse cx="1070" cy="1040" rx="70" ry="70" fill="url(#db)" opacity="0.5"/>
 <ellipse cx="1200" cy="1290" rx="40" ry="30" fill="url(#db)" opacity="0.5"/>
 <ellipse cx="1330" cy="1265" rx="25" ry="20" fill="url(#db)" opacity="0.6"/>
 <ellipse cx="1110" cy="1300" rx="60" ry="40" fill="url(#wb)" opacity="0.1"/>
 <rect x="1022" y="988" width="425" height="425" filter="url(#nz)" opacity="0.2"/>
 <rect x="1235" y="988" width="212" height="204" fill="#1c0e34"/>
 <g filter="url(#bl)" fill="#b0408e" opacity="0.9">
  <circle cx="1255" cy="1045" r="6"/><circle cx="1290" cy="1030" r="5"/><circle cx="1330" cy="1040" r="6"/><circle cx="1410" cy="1005" r="7"/><circle cx="1380" cy="1060" r="6"/>
  <circle cx="1260" cy="1090" r="7"/><circle cx="1300" cy="1075" r="5"/><circle cx="1350" cy="1090" r="6"/><circle cx="1420" cy="1080" r="6"/><circle cx="1400" cy="1120" r="5"/>
  <circle cx="1245" cy="1150" r="6"/><circle cx="1280" cy="1125" r="5"/><circle cx="1320" cy="1105" r="6"/><circle cx="1430" cy="1150" r="6"/><circle cx="1370" cy="1175" r="6"/>
  <circle cx="1265" cy="1180" r="6"/><circle cx="1310" cy="1180" r="5"/><circle cx="1420" cy="1185" r="6"/><circle cx="1360" cy="1012" r="5"/><circle cx="1440" cy="1040" r="5"/>
 </g>
 <g filter="url(#bl)" fill="#f080b0"><circle cx="1410" cy="1005" r="4"/><circle cx="1260" cy="1090" r="4"/><circle cx="1350" cy="1090" r="3"/><circle cx="1245" cy="1150" r="3"/></g>
</g>
<rect x="1235.5" y="988.5" width="211" height="203" fill="none" stroke="#a07ab8" stroke-width="1.5"/>
<g stroke="#fff" stroke-width="1.5" opacity="0.9">
 <line x1="1330" y1="1132" x2="1423" y2="1010" marker-end="url(#aw)"/>
 <line x1="1330" y1="1132" x2="1336" y2="1053" marker-end="url(#aw)"/>
 <line x1="1330" y1="1132" x2="1271" y2="1080" marker-end="url(#aw)"/>
 <line x1="1330" y1="1132" x2="1393" y2="1090" marker-end="url(#aw)"/>
</g>
<text x="1241" y="1031" font-size="31" textLength="137" lengthAdjust="spacingAndGlyphs" style="fill:#fff">IFFT图像</text>
<text x="1262" y="1162" font-size="31" style="fill:#fff">L1<tspan font-size="18" dy="6">2</tspan><tspan dy="-6">析出相</tspan></text>
<rect x="1327" y="1348" width="111" height="59" fill="#fff"/>
<text x="1382" y="1383" font-size="30" text-anchor="middle" textLength="88" lengthAdjust="spacingAndGlyphs">20 nm</text>
<path d="M1333,1389 V1397 H1431 V1389" fill="none" stroke="#111" stroke-width="2"/>

<g clip-path="url(#cj)">
 <rect x="1453" y="988" width="424" height="425" fill="#a4d5bb"/>
 <ellipse cx="1560" cy="1200" rx="110" ry="90" fill="url(#yb)"/>
 <ellipse cx="1760" cy="1110" rx="100" ry="70" fill="url(#yb)" opacity="0.7"/>
 <ellipse cx="1540" cy="1360" rx="90" ry="60" fill="url(#yb)" opacity="0.8"/>
 <ellipse cx="1820" cy="1300" rx="70" ry="60" fill="url(#yb)" opacity="0.6"/>
 <rect x="1453" y="988" width="424" height="425" fill="url(#sqA)"/>
 <rect x="1453" y="988" width="424" height="425" fill="url(#sqB)"/>
 <g fill="#1a1a1a">
  <ellipse cx="1828" cy="1025" rx="8" ry="7"/><ellipse cx="1840" cy="1036" rx="7" ry="8"/><ellipse cx="1850" cy="1048" rx="6" ry="6"/><ellipse cx="1834" cy="1044" rx="4" ry="4"/>
 </g>
</g>
<rect x="1760" y="1350" width="102" height="57" fill="#fff"/>
<text x="1811" y="1385" font-size="30" text-anchor="middle" textLength="86" lengthAdjust="spacingAndGlyphs">20 nm</text>
<path d="M1766,1389 V1397 H1856 V1389" fill="none" stroke="#111" stroke-width="2"/>

<text x="980" y="1444" font-size="33" textLength="66" lengthAdjust="spacingAndGlyphs">应变</text>
<rect x="1058" y="1420" width="792" height="24" fill="url(#cbar)" stroke="#444" stroke-width="1"/>
<path d="M1107.5,1444v-3M1157,1444v-3M1206.5,1444v-3M1256,1444v-6M1305.5,1444v-3M1355,1444v-3M1404.5,1444v-3M1454,1444v-6M1503.5,1444v-3M1553,1444v-3M1602.5,1444v-3M1652,1444v-6M1701.5,1444v-3M1751,1444v-3M1800.5,1444v-3" stroke="#333" stroke-width="1.2"/>
<g font-size="31" text-anchor="middle">
 <text x="1055" y="1478">−0.2</text><text x="1253" y="1478">−0.1</text><text x="1452" y="1478">0</text><text x="1649" y="1478">0.1</text><text x="1847" y="1478">0.2</text>
</g>
</svg>
</body></html>
